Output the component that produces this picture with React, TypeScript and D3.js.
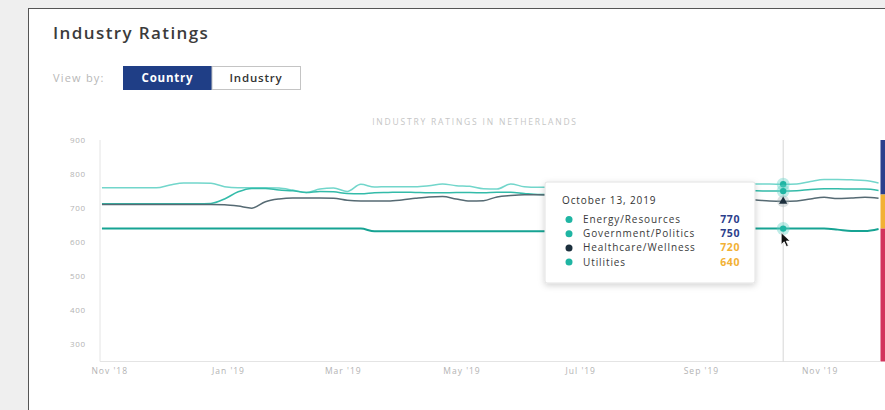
import React from "react";
import * as d3 from "d3";

const W = 885;
const H = 410;

const seriesNames = ["Energy/Resources", "Government/Politics", "Healthcare/Wellness", "Utilities"];
const seriesColors = ["#72d6cb", "#33bba9", "#566a73", "#16a393"];
const tooltipValues = [770, 750, 720, 640];
const tooltipValueColors = ["#2c3f8c", "#2c3f8c", "#f2b134", "#f2b134"];
const tooltipDotColors = ["#1fb5a3", "#1fb5a3", "#1c2f3d", "#1fb5a3"];
const yTicks = [900, 800, 700, 600, 500, 400, 300];
const xTickDates = [
  new Date(2018, 10, 1),
  new Date(2019, 0, 1),
  new Date(2019, 2, 1),
  new Date(2019, 4, 1),
  new Date(2019, 6, 1),
  new Date(2019, 8, 1),
  new Date(2019, 10, 1),
];
const dates = d3.timeWeek.range(new Date(2018, 9, 28), new Date(2019, 11, 2));

const energy = [
  760, 760, 760, 760, 760,
  768, 774, 774, 773, 763, 760, 760, 760, 759, 753, 746, 756, 759, 749, 770,
  762, 763, 763, 763, 766, 771, 766, 764, 757, 756, 771, 763, 761,
  762, 764, 766, 765, 763, 764, 766, 768, 767, 765, 764, 766, 768, 769, 770,
  771, 771, 770, 771, 778, 784, 784, 783, 781, 774,
];
const government = [
  713, 713, 713, 713, 713, 713, 713, 713,
  714, 727, 748, 758, 758, 753, 751, 746, 749, 748, 743, 742,
  745, 746, 747, 746, 745, 745, 746, 746, 745, 747, 747, 743, 740,
  740, 742, 744, 745, 746, 747, 746, 745, 746, 748, 749, 748, 749, 750, 750,
  751, 750, 750, 751, 755, 757, 757, 756, 756, 752,
];
const healthcare = [
  711, 711, 711, 711, 711, 711, 711, 711, 711,
  710, 706, 700, 719, 727, 730, 730, 730, 729, 723, 721,
  721, 721, 724, 729, 733, 734, 727, 721, 722, 733, 737, 739, 739,
  738, 737, 735, 733, 731, 729, 728, 727, 727, 728, 729, 728, 727, 727, 726,
  724, 721, 720, 721, 727, 732, 728, 730, 732, 729,
];
const utilities = [
  640, 640, 640, 640, 640, 640, 640, 640, 640, 640,
  640, 640, 640, 640, 640, 640, 640, 640, 640, 640,
  632, 632, 632, 632, 632, 632, 632, 632, 632, 632,
  632, 632, 632, 632, 632, 632, 632, 632, 632, 632,
  636, 640, 640, 640, 640, 640, 640, 640, 640, 640,
  640, 640, 640, 640, 637, 633, 633, 639,
];
const allSeries = [energy, government, healthcare, utilities];
const bandStops = [900, 740, 640, 250];
const bandColors = ["#2c3f8c", "#f2b134", "#d2335c"];
const hoverDate = new Date(2019, 9, 13);

const FONT = "'Open Sans', Roboto, sans-serif";

export default function App() {
  const x = d3.scaleTime().domain([new Date(2018, 9, 27), new Date(2019, 11, 2)]).range([100, 880.5]);
  const y = d3.scaleLinear().domain([250, 900]).range([361.5, 140]);
  const line = d3
    .line<number>()
    .x((_, i) => x(dates[i]))
    .y((d) => y(d))
    .curve(d3.curveMonotoneX);
  const fmt = d3.timeFormat("%b '%y");
  const hi = dates.findIndex((d) => +d === +hoverDate);
  const hx = x(hoverDate);

  return (
    <svg
      width={W}
      height={H}
      style={{ position: "absolute", left: 0, top: 0, fontFamily: FONT }}
    >
      <defs>
        <filter id="sh" x="-20%" y="-20%" width="140%" height="150%">
          <feDropShadow dx="0" dy="2" stdDeviation="3" floodColor="#000" floodOpacity="0.18" />
        </filter>
      </defs>
      <rect x={0} y={0} width={W} height={H} fill="#efefef" />
      <rect x={28.5} y={8.5} width={900} height={450} fill="#fff" stroke="#555" strokeWidth={1} />

      <text x={53} y={39} fontSize={17} fontWeight={600} fill="#3b3b3b" letterSpacing={1.4}>Industry Ratings</text>
      <text x={53} y={82} fontSize={11} fill="#b8b8b8" letterSpacing={1.2}>View by:</text>
      <rect x={123} y={66} width={89} height={24} fill="#1f3e86" />
      <text x={167.5} y={81.5} fontSize={11.5} fontWeight={700} fill="#fff" textAnchor="middle" letterSpacing={0.8}>Country</text>
      <rect x={212} y={66.5} width={88.5} height={23} fill="#fff" stroke="#c4c4c4" />
      <text x={256} y={81.5} fontSize={11.5} fontWeight={600} fill="#333" textAnchor="middle" letterSpacing={0.8}>Industry</text>

      <text x={475} y={124.5} fontSize={8.5} fill="#c6c6c6" textAnchor="middle" letterSpacing={1.8}>
        INDUSTRY RATINGS IN NETHERLANDS
      </text>

      {/* axes */}
      <line x1={100} x2={100} y1={140} y2={361.5} stroke="#e4e4e4" />
      <line x1={100} x2={880} y1={361.5} y2={361.5} stroke="#e4e4e4" />
      {yTicks.map((t) => (
        <text key={t} x={86} y={y(t) + 3} fontSize={8} fill="#b3b3b3" textAnchor="end" letterSpacing={0.8}>
          {t}
        </text>
      ))}
      {xTickDates.map((d) => (
        <text key={+d} x={x(d)} y={374} fontSize={8.5} fill="#b3b3b3" textAnchor="middle" letterSpacing={1}>
          {fmt(d)}
        </text>
      ))}

      {/* hover line */}
      <line x1={hx} x2={hx} y1={140} y2={361.5} stroke="#d6d6d6" />

      {/* series */}
      {allSeries.map((s, k) => (
        <path
          key={k}
          d={line(s) || ""}
          fill="none"
          stroke={seriesColors[k]}
          strokeWidth={k === 3 ? 2 : 1.5}
        />
      ))}

      {/* band bar at right */}
      {bandColors.map((c, k) => (
        <rect
          key={c}
          x={880.5}
          y={y(bandStops[k])}
          width={6}
          height={y(bandStops[k + 1]) - y(bandStops[k])}
          fill={c}
        />
      ))}

      {/* markers */}
      {allSeries.map((s, k) => {
        const cx = hx;
        const cy = y(s[hi]);
        if (k === 2) {
          return (
            <g key={k}>
              <circle cx={cx} cy={cy} r={6} fill="#9aa8ad" opacity={0.35} />
              <path d={d3.symbol(d3.symbolTriangle, 30)() || ""} transform={`translate(${cx},${cy})`} fill="#1c2f3d" />
            </g>
          );
        }
        return (
          <g key={k}>
            <circle cx={cx} cy={cy} r={6.5} fill="#5fd3c6" opacity={0.4} />
            <circle cx={cx} cy={cy} r={3.2} fill="#1fb5a3" />
          </g>
        );
      })}

      {/* cursor */}
      <path
        d="M0,0 L0,12 L3,9.2 L5.2,14 L7.2,13.1 L5,8.5 L9,8.5 Z"
        transform={`translate(${hx - 2},${y(utilities[hi]) + 4})`}
        fill="#111"
        stroke="#fff"
        strokeWidth={0.8}
      />

      {/* tooltip */}
      <g>
        <rect x={545} y={182} width={210} height={101} rx={2} fill="#fff" stroke="#e2e2e2" filter="url(#sh)" />
        <text x={562} y={204} fontSize={10} fill="#333" letterSpacing={0.9}>October 13, 2019</text>
        {seriesNames.map((n, k) => {
          const ry = 219.5 + k * 14.2;
          return (
            <g key={n}>
              <circle cx={569} cy={ry} r={3.5} fill={tooltipDotColors[k]} />
              <text x={583} y={ry + 3.5} fontSize={10} fill="#3a3a3a" letterSpacing={0.9}>{n}</text>
              <text x={740} y={ry + 3.5} fontSize={10.5} fontWeight={700} fill={tooltipValueColors[k]} textAnchor="end" letterSpacing={0.6}>
                {tooltipValues[k]}
              </text>
            </g>
          );
        })}
      </g>
    </svg>
  );
}
